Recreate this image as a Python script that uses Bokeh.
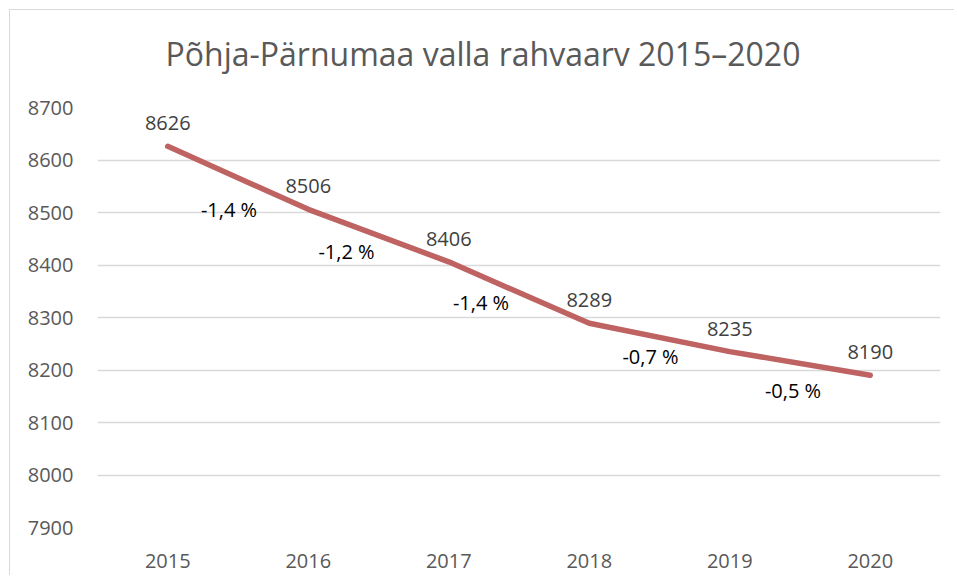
from bokeh.plotting import figure
from bokeh.models import Range1d, FixedTicker, ColumnDataSource, Title
from bokeh.embed import file_html
from bokeh.resources import INLINE
from bokeh.core.properties import value

# ---- data ----
years = ["2015", "2016", "2017", "2018", "2019", "2020"]
population = [8626, 8506, 8406, 8289, 8235, 8190]
change_labels = ["-1,4 %", "-1,2 %", "-1,4 %", "-0,7 %", "-0,5 %"]
y_ticks = [7900, 8000, 8100, 8200, 8300, 8400, 8500, 8600, 8700]
title_text = "Põhja-Pärnumaa valla rahvaarv 2015–2020"

# ---- styling (label nudges in screen pixels) ----
pct_dx = [-9, -32, -38, -9, -7]
pct_dy = [32, 16, 10, 19, 27]

FONT = "Open Sans"
GREY = "#595959"

xs = list(range(1, len(years) + 1))

p = figure(width=945, height=566, output_backend="svg", toolbar_location=None, title=None,
           x_range=Range1d(0.5, len(years) + 0.5), y_range=Range1d(7900, 8700),
           min_border_left=87, min_border_right=15, min_border_top=97, min_border_bottom=49)
p.margin = (9, 0, 0, 9)
p.styles = {"border-top": "1px solid #D9D9D9", "border-left": "1px solid #D9D9D9"}
p.outline_line_color = None
p.background_fill_color = "white"

# spacer between the frame and the title
spacer = Title(text=" ", text_font_size="1px", standoff=30, text_color="white")
p.add_layout(spacer, "above")
main_title = Title(text=title_text, align="left", offset=68, standoff=0,
                   text_font=FONT, text_font_size="32px", text_font_style="normal",
                   text_color=GREY)
p.add_layout(main_title, "above")

p.xaxis.ticker = FixedTicker(ticks=xs)
p.xaxis.major_label_overrides = {i: y for i, y in zip(xs, years)}
p.yaxis.ticker = FixedTicker(ticks=y_ticks)
for ax in (p.xaxis, p.yaxis):
    ax.axis_line_color = None
    ax.major_tick_line_color = None
    ax.minor_tick_line_color = None
    ax.major_label_text_font = FONT
    ax.major_label_text_font_size = "20px"
    ax.major_label_text_color = GREY
p.xaxis.major_label_standoff = 20
p.yaxis.major_label_standoff = 18

p.xgrid.grid_line_color = None
p.ygrid.ticker = FixedTicker(ticks=y_ticks)
p.ygrid.grid_line_color = "#D9D9D9"
p.ygrid.grid_line_width = 1.5

src = ColumnDataSource(dict(x=xs, y=population, lbl=[str(v) for v in population]))
p.line("x", "y", source=src, line_color="#BE6262", line_width=5.5, line_cap="round", line_join="round")
p.text("x", "y", text="lbl", source=src, text_font=value(FONT), text_font_size="20px",
       text_color="#404040", text_align="center", text_baseline="middle", y_offset=-23)

mx = [(xs[i] + xs[i + 1]) / 2 for i in range(len(xs) - 1)]
my = [(population[i] + population[i + 1]) / 2 for i in range(len(population) - 1)]
psrc = ColumnDataSource(dict(x=mx, y=my, lbl=change_labels, dx=pct_dx, dy=pct_dy))
p.text("x", "y", text="lbl", source=psrc, x_offset="dx", y_offset="dy",
       text_font=value(FONT), text_font_size="20px", text_color="black",
       text_align="center", text_baseline="middle")

open("out.html", "w").write(file_html(p, INLINE))
